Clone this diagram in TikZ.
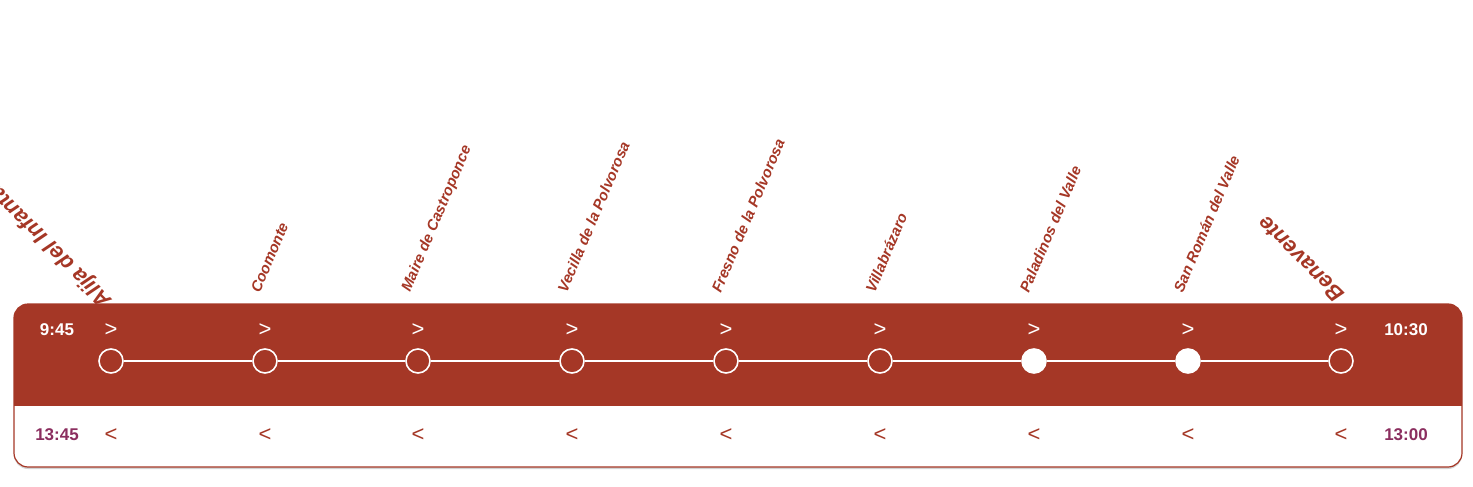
\documentclass[tikz,border=0pt]{standalone}
\usepackage{fontspec}
\setmainfont{Liberation Sans}
\usetikzlibrary{shadows}
\definecolor{linered}{HTML}{A53726}
\definecolor{timepurple}{HTML}{8B2E5F}
\tikzset{
  stop/.style={circle, draw=white, line width=1.6pt, fill=linered, minimum size=24pt, inner sep=0pt},
  stopfull/.style={stop, fill=white},
  stopname/.style={anchor=south west, rotate=67, inner sep=0pt, text=linered, font=\fontsize{15}{15}\selectfont\bfseries\itshape},
  bigstopname/.style={stopname, rotate=68, font=\fontsize{22}{22}\selectfont\bfseries\itshape},
  timelbl/.style={font=\fontsize{17}{17}\selectfont\bfseries},
  chev/.style={font=\fontsize{22}{22}\selectfont}
}
\begin{document}
\begin{tikzpicture}[x=1pt, y=-1pt]
  \useasboundingbox (0,0) rectangle (1473,487);

  % Panel
  \fill[white, rounded corners=14pt, drop shadow={shadow xshift=0pt, shadow yshift=-2pt, opacity=0.35}] (14,304) rectangle (1462,467);
  \begin{scope}
    \clip[rounded corners=14pt] (14,304) rectangle (1462,467);
    \fill[linered] (14,304) rectangle (1462,406);
  \end{scope}
  \draw[linered, line width=1.2pt, rounded corners=14pt] (14,304) rectangle (1462,467);

  % Times
  \node[timelbl, text=white] (dep) at (57,330) {9:45};
  \node[timelbl, text=white] (arr) at (1406,330) {10:30};
  \node[timelbl, text=timepurple] (ret) at (57,435) {13:45};
  \node[timelbl, text=timepurple] (retarr) at (1406,435) {13:00};

  % Stops
  \foreach \i/\x/\s in {1/111/stop, 2/265/stop, 3/418/stop, 4/572/stop,
      5/726/stop, 6/880/stop, 7/1034/stopfull, 8/1188/stopfull, 9/1341/stop} {
    \node[\s] (s\i) at (\x,361) {};
    \node[chev, text=white] (f\i) at (\x,330) {>};
    \node[chev, text=linered] (b\i) at (\x,435) {<};
  }
  \foreach \i/\x/\lab in {2/265/Coomonte, 3/418/Maire de Castroponce,
      4/572/Vecilla de la Polvorosa, 5/726/Fresno de la Polvorosa,
      6/880/Villabrázaro, 7/1034/Paladinos del Valle, 8/1188/San Román del Valle}
    \node[stopname] (n\i) at (\x-5,294) {\lab};
  \node[bigstopname] (n1) at (116,296) {Alija del Infantado};
  \node[bigstopname] (n9) at (1346,293) {Benavente};

  % Line
  \foreach \a/\b in {1/2,2/3,3/4,4/5,5/6,6/7,7/8,8/9}
    \draw[white, line width=2.2pt] (s\a) -- (s\b);
\end{tikzpicture}
\end{document}
